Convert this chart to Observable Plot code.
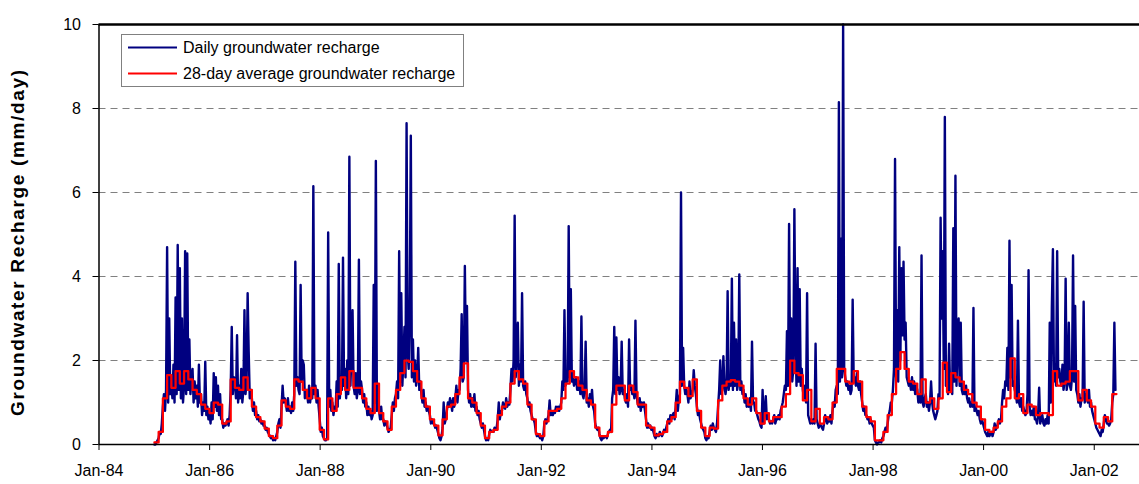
<!DOCTYPE html>
<html><head><meta charset="utf-8">
<script src="https://cdn.jsdelivr.net/npm/d3@7"></script>
<script src="https://cdn.jsdelivr.net/npm/@observablehq/plot@0.6"></script>
<style>body{margin:0;background:#fff;}</style>
</head><body><div id="chart"></div>
<script>
const seriesStart = "1985-01-01";
const dailyStepDays = 7;
const avgStepDays = 28;
const xDomain = ["1984-01-01", "2002-10-27"];
const yTicks = [0, 2, 4, 6, 8, 10];
const gridLines = [2, 4, 6, 8];
const legendLabels = ["Daily groundwater recharge", "28-day average groundwater recharge"];
const yTitle = "Groundwater Recharge (mm/day)";

const dailyRecharge = [
0,0,0.05,0.1, 0.15,0.3,0.25,0.5, 0.9,1.2,0.8,1.3, 4.7,1.0,3.0,1.2, 1.5,1.1,1.9,1.0,
3.5,1.2,4.75,1.3, 4.2,1.1,3.0,1.0, 1.4,4.6,1.2,4.55, 1.3,2.5,1.2,1.6, 1.8,1.0,1.5,1.1,
1.4,0.9,1.9,1.0, 1.2,0.7,1.0,0.8, 1.97,0.7,0.9,0.6, 0.8,0.5,1.0,0.6, 1.7,0.9,1.6,0.8,
1.4,0.7,1.2,0.6, 0.6,0.4,0.5,0.45, 0.5,0.6,0.45,0.7, 1.3,2.8,1.2,1.6, 1.5,1.1,2.6,1.0,
1.4,1.1,1.8,1.0, 1.3,3.2,1.2,1.5, 3.6,2.2,1.1,1.3, 1.1,0.8,1.0,0.7, 0.8,0.6,0.7,0.55,
0.6,0.5,0.55,0.45, 0.45,0.35,0.4,0.3, 0.25,0.2,0.15,0.2, 0.1,0.15,0.1,0.2, 0.3,0.5,0.6,0.4,
0.9,1.4,1.0,1.1, 1.0,0.8,1.1,0.8, 0.9,0.75,1.0,0.8, 1.2,4.35,1.4,1.6, 1.3,1.2,3.8,1.5,
2.0,1.9,1.1,1.2, 1.3,1.0,1.4,1.0, 1.3,1.1,6.15,1.2, 1.4,1.0,1.3,0.9, 0.6,0.3,0.4,0.2,
0.15,0.1,0.1,0.15, 5.05,0.9,1.3,0.8, 1.0,0.7,0.9,0.8, 1.5,0.9,4.3,1.1, 1.5,1.3,4.45,1.4,
1.8,1.1,2.0,1.2, 6.85,1.4,2.2,3.2, 1.4,1.2,1.7,1.1, 1.3,4.4,1.2,1.5, 1.3,1.0,1.2,0.9,
1.0,0.7,0.9,0.7, 0.8,0.6,0.7,3.8, 1.0,6.75,0.8,1.2, 0.8,0.6,0.9,0.6, 0.6,0.45,0.55,0.5,
0.4,0.3,0.35,0.4, 0.7,1.0,0.8,1.1, 1.2,1.5,1.1,4.6, 1.5,3.6,1.4,2.0, 2.8,1.6,7.65,2.2,
1.8,3.2,7.35,1.6, 2.5,1.5,2.0,1.4, 1.6,2.3,1.3,1.5, 1.2,1.0,1.3,0.9, 1.0,0.8,0.9,0.8,
0.7,0.5,0.6,0.5, 0.5,0.4,0.45,0.35, 0.25,0.15,0.1,0.2, 0.4,1.0,0.5,0.6, 0.8,1.0,0.9,1.1,
1.0,0.8,1.1,0.9, 1.1,1.4,1.0,1.3, 1.3,1.8,3.1,1.5, 1.6,4.25,2.0,3.3, 1.3,1.0,1.2,0.9,
1.1,0.9,1.2,0.8, 0.9,0.7,0.8,0.6, 0.5,0.4,0.5,0.35, 0.2,0.1,0.15,0.1, 0.25,0.35,0.3,0.3,
0.3,0.4,0.35,0.4, 0.6,1.0,0.6,0.8, 0.8,1.0,0.9,0.85, 1.1,0.9,1.0,0.95, 1.3,1.8,1.5,2.0,
5.45,1.6,2.2,2.9, 1.4,1.9,1.5,3.6, 1.4,1.3,1.5,1.2, 1.1,0.9,1.0,0.8, 0.7,0.6,0.6,0.5,
0.3,0.2,0.25,0.2, 0.15,0.2,0.1,0.2, 0.5,0.6,0.5,0.6, 0.7,1.05,0.7,0.75, 0.7,0.8,0.75,0.9,
0.8,0.9,0.8,0.9, 1.0,1.5,1.3,3.2, 1.4,1.6,1.5,5.2, 1.6,3.7,1.5,1.6, 1.4,1.5,1.6,1.3,
1.3,1.5,1.2,3.05, 1.2,1.1,1.3,2.45, 1.0,1.1,0.9,1.2, 1.0,1.3,0.9,0.8, 0.5,0.4,0.35,0.4,
0.25,0.15,0.1,0.2, 0.15,0.2,0.2,0.15, 0.25,0.3,0.35,0.3, 1.1,1.3,2.8,1.2, 2.55,1.3,1.6,1.2,
1.3,2.45,1.2,1.3, 1.1,1.0,1.2,0.9, 2.5,1.3,1.4,1.2, 1.3,1.1,2.95,1.2, 1.0,0.9,1.1,0.8,
1.0,0.9,1.0,0.8, 0.6,0.4,0.5,0.4, 0.45,0.35,0.4,0.3, 0.2,0.15,0.25,0.2, 0.2,0.3,0.25,0.2,
0.25,0.35,0.3,0.4, 0.5,0.6,0.5,0.7, 0.6,0.7,0.75,0.6, 0.9,1.3,0.8,1.1, 1.2,6.0,1.4,2.3,
1.4,1.2,1.3,1.2, 1.0,1.5,1.1,1.2, 1.3,1.77,1.4,1.2, 0.9,0.7,0.8,0.6, 0.5,0.4,0.35,0.3,
0.15,0.1,0.2,0.15, 0.3,0.45,0.35,0.5, 0.4,0.35,0.3,0.5, 0.9,1.3,2.0,1.2, 1.3,2.1,1.4,1.2,
1.4,3.65,1.3,1.6, 1.4,3.95,1.3,2.9, 1.4,2.5,1.3,1.5, 4.05,1.3,1.5,1.2, 1.3,1.0,1.2,0.9,
1.0,0.9,1.1,0.8, 2.45,1.0,1.0,0.8, 0.8,0.7,0.6,0.55, 0.45,0.4,1.3,0.5, 0.8,1.15,0.6,0.7,
0.6,0.5,0.55,0.5, 0.6,0.7,0.5,0.6, 0.6,0.7,0.6,0.8, 0.9,1.0,1.2,1.4, 1.3,2.7,1.4,5.25,
1.6,3.0,1.5,1.8, 5.6,2.5,1.4,4.2, 1.5,3.7,1.4,1.8, 1.3,1.1,1.4,1.0, 3.6,0.7,0.6,0.5,
0.6,0.5,0.6,0.5, 2.4,0.6,0.5,0.4, 0.5,0.45,0.4,0.35, 0.5,0.7,0.6,0.5, 0.6,0.55,0.7,0.5,
0.8,1.0,0.9,1.3, 1.4,1.2,8.15,1.5, 4.9,1.6,10.0,1.8, 1.6,1.4,1.5,1.3, 1.4,1.2,1.3,3.45,
1.5,1.6,1.4,1.7, 1.4,1.3,1.5,1.2, 1.0,0.8,0.9,0.7, 0.7,0.6,0.65,0.5, 0.6,0.5,0.45,0.4,
0.1,0.05,0,0.05, 0.05,0.1,0.05,0.15, 0.2,0.3,0.4,0.3, 0.5,0.7,0.8,1.0, 1.0,1.3,1.8,6.8,
1.6,3.2,1.5,4.7, 2.0,4.2,2.6,4.35, 2.5,2.9,1.6,1.5, 1.4,1.5,1.3,1.6, 1.3,1.5,1.2,1.4,
1.3,1.0,1.2,1.0, 4.5,1.0,0.9,1.1, 1.2,0.9,1.0,0.8, 1.0,1.5,1.0,0.8, 0.7,0.6,0.7,0.8,
1.2,1.1,5.4,3.0, 4.6,1.8,7.8,1.4, 1.5,1.2,2.4,1.3, 1.5,1.2,5.15,1.5, 6.4,1.4,2.5,3.0,
1.4,2.9,1.3,1.2, 1.3,1.2,1.4,1.1, 1.0,1.1,0.9,1.0, 0.9,3.25,0.8,0.9, 0.8,0.7,0.8,0.6,
0.5,0.6,0.5,0.4, 0.3,0.25,0.2,0.3, 0.2,0.25,0.3,0.2, 0.3,0.5,0.35,0.4, 0.5,0.6,0.5,0.6,
1.0,1.3,1.1,1.5, 1.4,2.3,1.3,4.85, 1.6,3.8,1.4,1.5, 1.3,1.2,1.0,2.95, 1.0,0.9,1.1,0.8,
0.9,0.8,0.7,0.75, 1.2,4.15,0.9,0.7, 0.8,0.7,0.9,0.6, 0.6,0.5,0.7,1.35, 0.5,0.6,0.7,0.5,
0.45,0.6,0.5,0.7, 0.5,2.9,1.0,3.3, 4.65,1.5,1.9,1.4, 4.6,1.6,1.8,1.5, 1.4,1.9,1.3,1.5,
3.95,1.3,1.5,2.9, 1.4,1.3,1.6,4.5, 1.5,3.3,1.3,1.2, 1.0,1.2,0.9,1.1, 1.1,3.4,1.0,1.2,
1.1,1.0,1.3,0.9, 1.0,0.8,0.7,0.6, 0.5,0.4,0.35,0.3, 0.25,0.2,0.35,0.3, 0.5,0.7,0.6,0.5,
0.5,0.45,0.5,0.6, 1.0,1.2,2.9,1.3
];

const avg28Recharge = [
0.05,0.3,1.1,1.65,1.35,1.75,1.45,1.75,1.55,1.3,
1.2,0.95,0.85,0.75,1.0,0.95,0.5,0.55,1.55,1.35,
1.3,1.6,1.3,0.9,0.65,0.55,0.38,0.2,0.15,0.45,
1.05,0.9,0.85,1.55,1.5,1.3,1.1,1.35,1.1,0.35,
0.12,1.1,0.8,1.2,1.6,1.3,1.75,1.35,1.35,1.1,
0.85,0.75,1.45,0.75,0.55,0.35,0.9,1.3,1.7,2.0,
1.97,1.75,1.5,1.1,0.9,0.6,0.45,0.22,0.6,0.9,
0.95,1.2,1.6,1.93,1.1,1.0,0.75,0.45,0.15,0.3,
0.35,0.7,0.9,1.0,1.45,1.75,1.55,1.45,0.95,0.6,
0.25,0.2,0.55,0.8,0.8,0.85,1.1,1.45,1.75,1.6,
1.4,1.3,1.05,0.95,0.4,0.2,0.2,0.3,0.95,1.4,
1.4,1.05,1.4,1.25,0.95,0.95,0.45,0.4,0.22,0.25,
0.3,0.55,0.65,1.0,1.5,1.35,1.15,1.55,0.8,0.4,
0.2,0.4,0.38,1.05,1.4,1.5,1.53,1.5,1.4,1.1,
0.95,1.1,0.75,0.5,0.75,0.55,0.65,0.65,0.9,1.2,
2.0,1.7,1.65,1.05,1.3,0.55,0.85,0.5,0.65,0.6,
1.0,1.8,1.8,1.5,1.45,1.75,1.5,0.9,0.65,0.55,
0.1,0.1,0.3,0.7,1.2,1.8,2.2,1.8,1.5,1.45,
1.2,1.55,1.0,1.1,0.85,1.1,1.95,1.25,1.7,1.6,
1.5,1.3,1.2,1.0,0.9,0.6,0.35,0.3,0.4,0.55,
0.9,1.1,2.05,1.1,1.2,0.75,0.95,0.9,0.7,0.75,
0.75,0.7,1.75,1.4,1.45,1.5,1.75,1.75,1.05,1.3,
1.05,0.9,0.5,0.4,0.65,0.55,1.2
];

const t0 = new Date(seriesStart);
const daily = dailyRecharge.map((v, k) => ({date: d3.utcDay.offset(t0, k * dailyStepDays), value: v}));
const avg = avg28Recharge.map((v, i) => ({date: d3.utcDay.offset(t0, i * avgStepDays), value: v}));
avg.push({date: d3.utcDay.offset(t0, avg28Recharge.length * avgStepDays), value: avg28Recharge[avg28Recharge.length - 1]});

const FONT = "'Liberation Sans', Arial, sans-serif";
const x0 = new Date(xDomain[0]);

const chart = Plot.plot({
  width: 1139, height: 484,
  marginLeft: 98.5, marginRight: 0, marginTop: 24, marginBottom: 40,
  style: {fontFamily: FONT, fontSize: "16px", background: "white", color: "black", overflow: "visible"},
  x: {type: "utc", domain: xDomain.map(d => new Date(d))},
  y: {domain: [0, 10]},
  marks: [
    Plot.ruleY(gridLines, {stroke: "#808080", strokeWidth: 1, strokeDasharray: "7,5"}),
    Plot.line(daily, {x: "date", y: "value", stroke: "#000080", strokeWidth: 2.4}),
    Plot.line(avg, {x: "date", y: "value", stroke: "#ff0000", strokeWidth: 2.25, curve: "step-after"}),
    Plot.ruleY([10], {stroke: "black", strokeWidth: 2.5}),
    Plot.ruleY([0], {stroke: "black", strokeWidth: 1.5}),
    Plot.ruleX([x0], {stroke: "black", strokeWidth: 1.5}),
    Plot.axisX({ticks: d3.utcYear.every(2), tickFormat: d3.utcFormat("%b-%y"), tickSize: 6, tickPadding: 14, label: null, fontSize: 16}),
    Plot.axisY({ticks: yTicks, tickFormat: d => String(d), tickSize: 6, tickPadding: 12, label: null, fontSize: 16})
  ]
});

const svg = d3.select(chart);
svg.append("text")
  .attr("transform", "translate(24,243) rotate(-90)")
  .attr("text-anchor", "middle")
  .attr("font-family", FONT).attr("font-size", 19).attr("font-weight", "bold")
  .attr("textLength", 346).attr("lengthAdjust", "spacing")
  .attr("fill", "black")
  .text(yTitle);

const lg = svg.append("g").attr("text-anchor", "start");
lg.append("rect").attr("x", 121.5).attr("y", 34.5).attr("width", 342).attr("height", 52)
  .attr("fill", "white").attr("stroke", "#808080").attr("stroke-width", 1);
const legendColors = ["#000080", "#ff0000"];
legendLabels.forEach((lab, i) => {
  const yy = 47.5 + i * 26;
  lg.append("line").attr("x1", 128).attr("x2", 177).attr("y1", yy).attr("y2", yy)
    .attr("stroke", legendColors[i]).attr("stroke-width", 2);
  lg.append("text").attr("x", 183).attr("y", yy + 5.5).attr("text-anchor", "start")
    .attr("font-family", FONT).attr("font-size", 16).attr("fill", "black").text(lab);
});

document.getElementById("chart").appendChild(chart);
</script>
</body></html>
